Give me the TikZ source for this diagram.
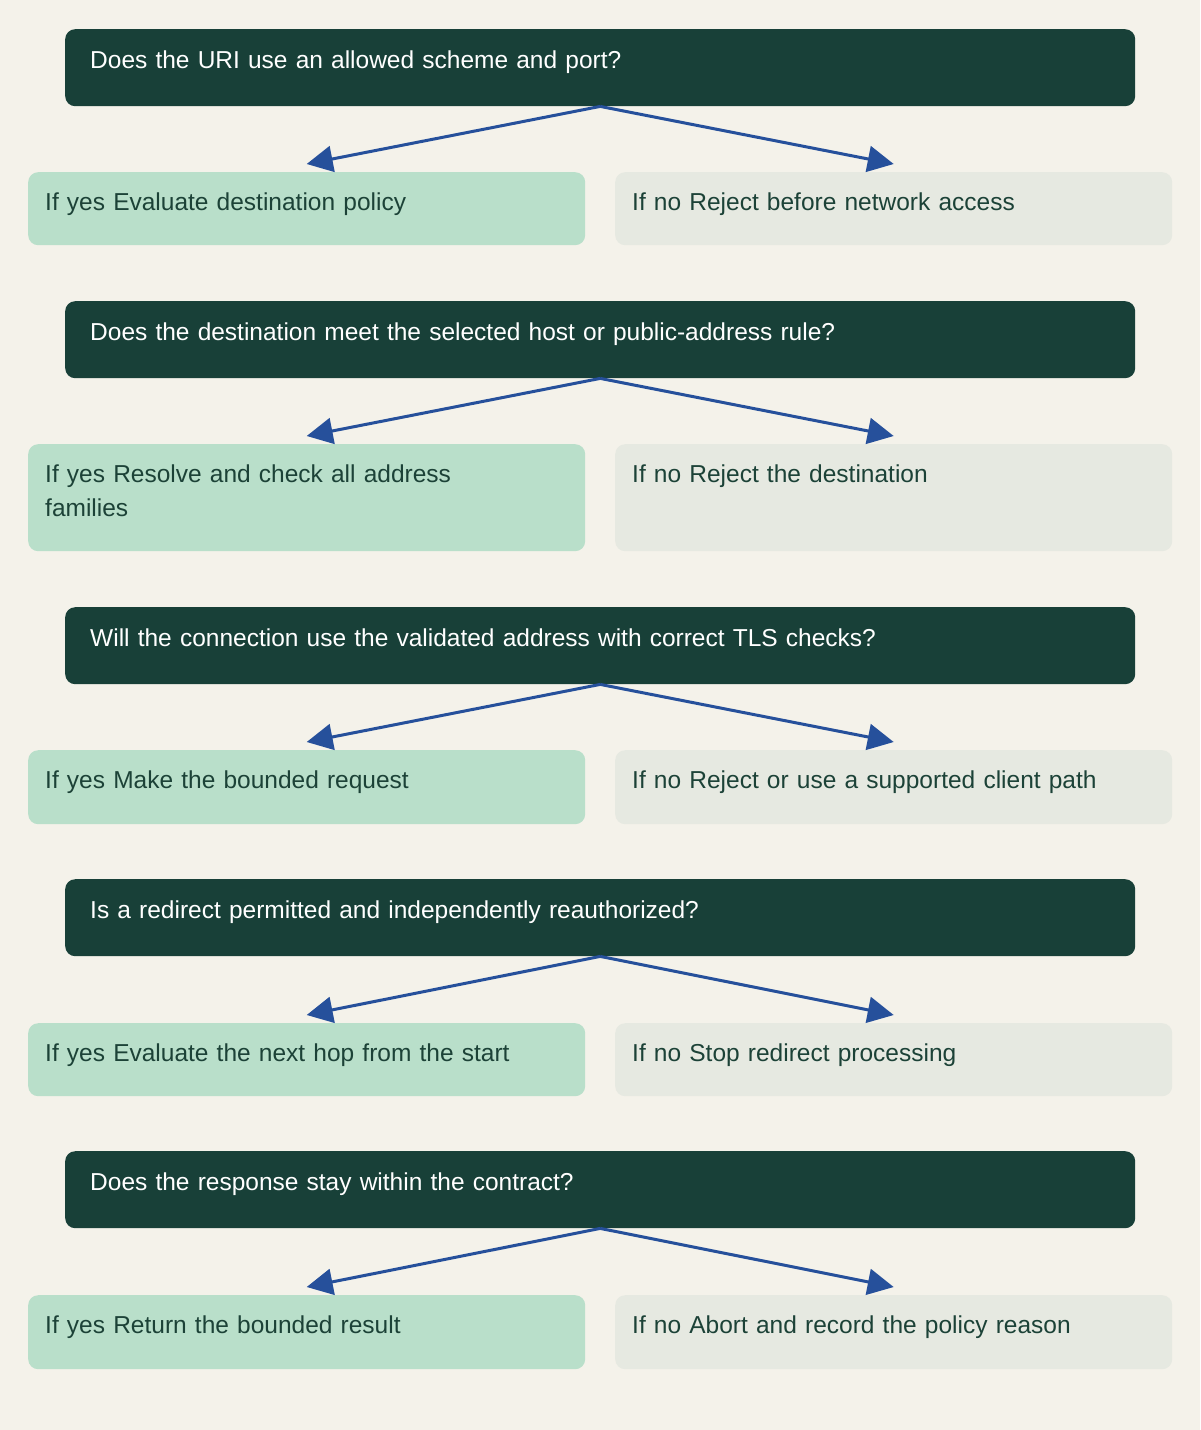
\documentclass[tikz,border=0pt]{standalone}
\usepackage{fontspec}
\setmainfont{Liberation Sans}
\usetikzlibrary{arrows.meta}
\definecolor{bgColor}{RGB}{244,242,234}
\definecolor{askColor}{RGB}{24,64,56}
\definecolor{yesColor}{RGB}{185,223,202}
\definecolor{noColor}{RGB}{230,233,225}
\definecolor{inkColor}{RGB}{28,66,55}
\definecolor{arrowColor}{RGB}{38,80,155}
\begin{document}
\begin{tikzpicture}[x=1pt,y=-1pt,
  ask/.style={anchor=north west,fill=askColor,text=white,rounded corners=10pt,
    inner xsep=25pt,inner ysep=0pt,text width=1020pt,align=left,
    font=\fontsize{24.5}{34}\selectfont,text height=39pt,text depth=38pt},
  answer/.style={anchor=north west,rounded corners=10pt,text=inkColor,
    inner xsep=17pt,inner ysep=0pt,text width=523pt,align=left,
    font=\fontsize{24.5}{34}\selectfont,text height=38pt,text depth=#1},
  answer/.default=35pt,
  yesbox/.style={answer=#1,fill=yesColor},
  yesbox/.default=35pt,
  nobox/.style={answer=#1,fill=noColor},
  nobox/.default=35pt,
  arr/.style={draw=arrowColor,line width=3pt,
    -{Triangle[length=26pt,width=26pt]}}]
\path[use as bounding box,fill=bgColor] (0,0) rectangle (1200,1430);

% first question
\node[ask] (q1) at (65,29) {Does the URI use an allowed scheme and port?};
\node[yesbox] (y1) at (28,172) {If yes Evaluate destination policy};
\node[nobox] (n1) at (615,172) {If no Reject before network access};
\draw[arr] (q1.south) -- ([yshift=8pt]y1.north);
\draw[arr] (q1.south) -- ([yshift=8pt]n1.north);

% second question
\node[ask] (q2) at (65,301) {Does the destination meet the selected host or public-address rule?};
\node[yesbox=69pt] (y2) at (28,444) {If yes Resolve and check all address\\families};
\node[nobox=69pt] (n2) at (615,444) {If no Reject the destination};
\draw[arr] (q2.south) -- ([yshift=8pt]y2.north);
\draw[arr] (q2.south) -- ([yshift=8pt]n2.north);

% third question
\node[ask] (q3) at (65,607) {Will the connection use the validated address with correct TLS checks?};
\node[yesbox=36pt] (y3) at (28,750) {If yes Make the bounded request};
\node[nobox=36pt] (n3) at (615,750) {If no Reject or use a supported client path};
\draw[arr] (q3.south) -- ([yshift=8pt]y3.north);
\draw[arr] (q3.south) -- ([yshift=8pt]n3.north);

% fourth question
\node[ask] (q4) at (65,879) {Is a redirect permitted and independently reauthorized?};
\node[yesbox] (y4) at (28,1023) {If yes Evaluate the next hop from the start};
\node[nobox] (n4) at (615,1023) {If no Stop redirect processing};
\draw[arr] (q4.south) -- ([yshift=8pt]y4.north);
\draw[arr] (q4.south) -- ([yshift=8pt]n4.north);

% fifth question
\node[ask] (q5) at (65,1151) {Does the response stay within the contract?};
\node[yesbox=36pt] (y5) at (28,1295) {If yes Return the bounded result};
\node[nobox=36pt] (n5) at (615,1295) {If no Abort and record the policy reason};
\draw[arr] (q5.south) -- ([yshift=8pt]y5.north);
\draw[arr] (q5.south) -- ([yshift=8pt]n5.north);
\end{tikzpicture}
\end{document}
